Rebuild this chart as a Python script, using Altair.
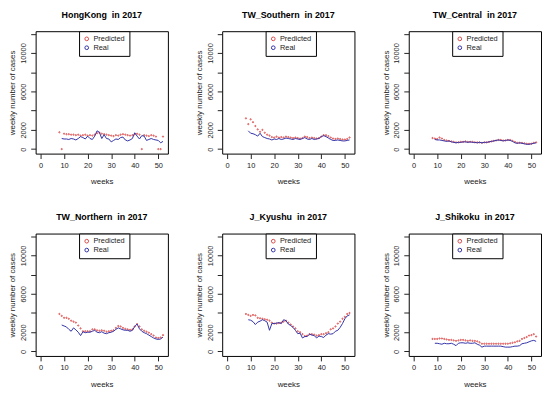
import altair as alt
import pandas as pd

FONT = "Liberation Sans"
RED = "#d94a4a"
BLUE = "#3232a8"

weeks_real = list(range(9, 53))   # weeks 9..52
weeks_pred = list(range(8, 53))   # weeks 8..52

titles = ["HongKong", "TW_Southern", "TW_Central", "TW_Northern", "J_Kyushu", "J_Shikoku"]

hk_real = [1100, 1050, 1050, 1000, 1100, 1050, 950, 1100, 1300, 1200, 1050, 1350, 1100, 1000, 1350, 1900,
           1750, 1100, 1500, 1100, 1050, 750, 900, 1050, 1000, 1200, 1250, 950, 850, 950, 1100, 1700,
           1350, 1050, 1400, 1350, 900, 1000, 1100, 1000, 950, 900, 650, 800]
hk_pred = [1750, 0, 1600, 1550, 1550, 1500, 1500, 1450, 1500, 1400, 1450, 1500, 1400, 1450, 1400, 1500,
           1650, 1700, 1600, 1550, 1500, 1450, 1400, 1350, 1450, 1400, 1500, 1550, 1500, 1450, 1400, 1450,
           1550, 1600, 1500, 0, 1450, 1400, 1350, 1450, 1400, 1300, 0, 0, 1300]

ts_real = [1900, 1650, 1600, 1500, 1350, 1650, 1300, 1200, 1100, 1050, 950, 1050, 1000, 1100, 1000, 1050,
           1150, 1100, 1050, 1000, 1100, 1050, 1000, 1100, 1200, 1050, 1000, 1100, 1000, 1050, 1100, 1300,
           1400, 1300, 1150, 1000, 900, 900, 950, 900, 850, 850, 900, 950]
ts_pred = [3200, 2600, 3100, 2800, 2400, 2050, 1800, 2000, 1700, 1500, 1400, 1250, 1200, 1300, 1200, 1250,
           1200, 1300, 1250, 1200, 1150, 1200, 1150, 1100, 1150, 1300, 1250, 1150, 1200, 1150, 1100, 1150,
           1300, 1450, 1450, 1350, 1200, 1100, 1050, 1100, 1050, 1000, 1000, 1050, 1200]

tc_real = [1000, 950, 950, 900, 850, 800, 850, 750, 700, 650, 700, 700, 750, 750, 700, 750,
           700, 700, 650, 700, 650, 700, 700, 750, 800, 850, 900, 950, 900, 850, 900, 950,
           900, 800, 650, 600, 650, 600, 550, 500, 500, 550, 600, 650]
tc_pred = [1150, 1100, 1050, 1200, 1100, 950, 900, 850, 800, 750, 700, 700, 750, 750, 800, 750,
           750, 750, 700, 700, 700, 650, 700, 700, 750, 800, 850, 900, 950, 950, 900, 900,
           950, 950, 850, 750, 650, 650, 650, 600, 550, 550, 550, 650, 700]

tn_real = [2750, 2650, 2550, 2300, 2100, 2450, 2250, 2000, 1650, 2050, 1950, 2000, 2000, 2100, 2200, 2000,
           1950, 2050, 1900, 1850, 1950, 2000, 2100, 2300, 2450, 2350, 2250, 2200, 2200, 2100, 2200, 2600,
           2850, 2350, 2100, 1950, 1850, 1700, 1550, 1400, 1300, 1250, 1300, 1500]
tn_pred = [3900, 3700, 3500, 3500, 3400, 3200, 3100, 3000, 2700, 2400, 2100, 2100, 2100, 2100, 2300, 2300,
           2200, 2150, 2200, 2150, 2050, 2100, 2150, 2200, 2450, 2650, 2600, 2450, 2350, 2300, 2250, 2300,
           2600, 2850, 2600, 2300, 2150, 2050, 1950, 1800, 1650, 1450, 1400, 1450, 1700]

jk_real = [3300, 3250, 3100, 2800, 3050, 3150, 3300, 3200, 3050, 2200, 2900, 2900, 2950, 3000, 2900, 3300,
           3200, 2850, 2700, 2500, 2200, 1850, 1900, 1400, 1550, 1550, 1800, 1700, 1650, 1400, 1600, 1550,
           1450, 1700, 1850, 1800, 1850, 2100, 2200, 2500, 2900, 3400, 3700, 3800]
jk_pred = [3900, 3800, 3700, 3800, 3750, 3500, 3450, 3400, 3350, 3300, 3200, 3000, 2900, 2900, 2950, 3000,
           3100, 3200, 3000, 2800, 2600, 2400, 2100, 2000, 1800, 1600, 1650, 1800, 1800, 1750, 1650, 1700,
           1800, 1800, 1900, 2000, 2300, 2400, 2600, 2900, 3100, 3400, 3600, 3900, 4000]

js_real = [850, 850, 800, 750, 850, 800, 800, 850, 750, 600, 850, 900, 900, 850, 900, 850,
           850, 900, 750, 650, 450, 550, 550, 550, 550, 550, 550, 550, 550, 500, 450, 450,
           450, 500, 550, 550, 600, 800, 850, 900, 1000, 1100, 1150, 1050]
js_pred = [1300, 1300, 1300, 1350, 1350, 1300, 1250, 1200, 1200, 1150, 1100, 1150, 1200, 1200, 1150, 1100,
           1150, 1100, 1100, 1050, 950, 800, 800, 800, 800, 800, 800, 800, 800, 800, 800, 800,
           800, 850, 900, 950, 1050, 1100, 1300, 1400, 1500, 1650, 1700, 1800, 1550]

reals = [hk_real, ts_real, tc_real, tn_real, jk_real, js_real]
preds = [hk_pred, ts_pred, tc_pred, tn_pred, jk_pred, js_pred]

x_ticks = [0, 10, 20, 30, 40, 50]
y_ticks = [0, 2000, 4000, 6000, 8000, 10000, 12000]
series_names = ["Predicted", "Real"]

W, H = 134, 124


def panel(name, real, pred):
    df = pd.DataFrame({
        "week": weeks_pred + weeks_real,
        "cases": pred + real,
        "series": ["Predicted"] * len(pred) + ["Real"] * len(real),
    })
    base = alt.Chart(df)
    x = alt.X("week:Q",
              scale=alt.Scale(domain=[-2.08, 54.08], nice=False, zero=False),
              axis=alt.Axis(values=x_ticks, title="weeks", format="d",
                            labelPadding=3, titlePadding=9))
    y = alt.Y("cases:Q",
              scale=alt.Scale(domain=[-470, 12270], nice=False, zero=False),
              axis=alt.Axis(values=y_ticks, title="weekly number of cases", format="d",
                            labelExpr="(datum.value == 4000 || datum.value == 8000 || datum.value == 12000) ? '' : datum.label",
                            labelAngle=-90, labelAlign="center", labelBaseline="bottom",
                            labelPadding=3, titlePadding=3))
    color = alt.Color("series:N",
                      scale=alt.Scale(domain=series_names, range=[RED, BLUE]),
                      legend=alt.Legend(title=None, orient="none", legendX=44, legendY=0,
                                        direction="vertical"))
    pts = base.transform_filter("datum.series == 'Predicted'").mark_point(
        filled=False, size=1.5, strokeWidth=1, opacity=1
    ).encode(x=x, y=y, color=color)
    line = base.transform_filter("datum.series == 'Real'").mark_line(
        strokeWidth=1
    ).encode(x=x, y=y, color=color)
    return alt.layer(pts, line).properties(
        width=W, height=H, title=f"{name}\u00a0 in 2017"
    ).resolve_scale(color="shared")


panels = [panel(t, r, p) for t, r, p in zip(titles, reals, preds)]

row1 = alt.hconcat(*panels[:3], spacing=26).resolve_scale(color="independent").resolve_legend(color="independent")
row2 = alt.hconcat(*panels[3:], spacing=26).resolve_scale(color="independent").resolve_legend(color="independent")

chart = alt.vconcat(row1, row2, spacing=27).resolve_scale(color="independent").resolve_legend(
    color="independent"
).properties(
    padding={"left": 0, "top": 0, "right": 0, "bottom": 0},
    background="white",
).configure_view(
    stroke="black", strokeWidth=1
).configure_axis(
    labelFont=FONT, labelFontSize=7.5, labelColor="#222222",
    titleFont=FONT, titleFontSize=8, titleFontWeight="normal", titleColor="#222222",
    tickColor="#222222", tickSize=5, tickWidth=1, domain=False, grid=False,
).configure_title(
    font=FONT, fontSize=9, fontWeight="bold", color="black", anchor="middle", offset=11,
).configure_legend(
    labelFont=FONT, labelFontSize=7.5, labelColor="#222222",
    strokeColor="black", fillColor="white", padding=4, rowPadding=0,
    symbolType="circle", symbolSize=14, symbolStrokeWidth=1, symbolFillColor="transparent",
    labelOffset=3, cornerRadius=0,
)

chart.save("out.html", embed_options={"renderer": "svg", "actions": False})
